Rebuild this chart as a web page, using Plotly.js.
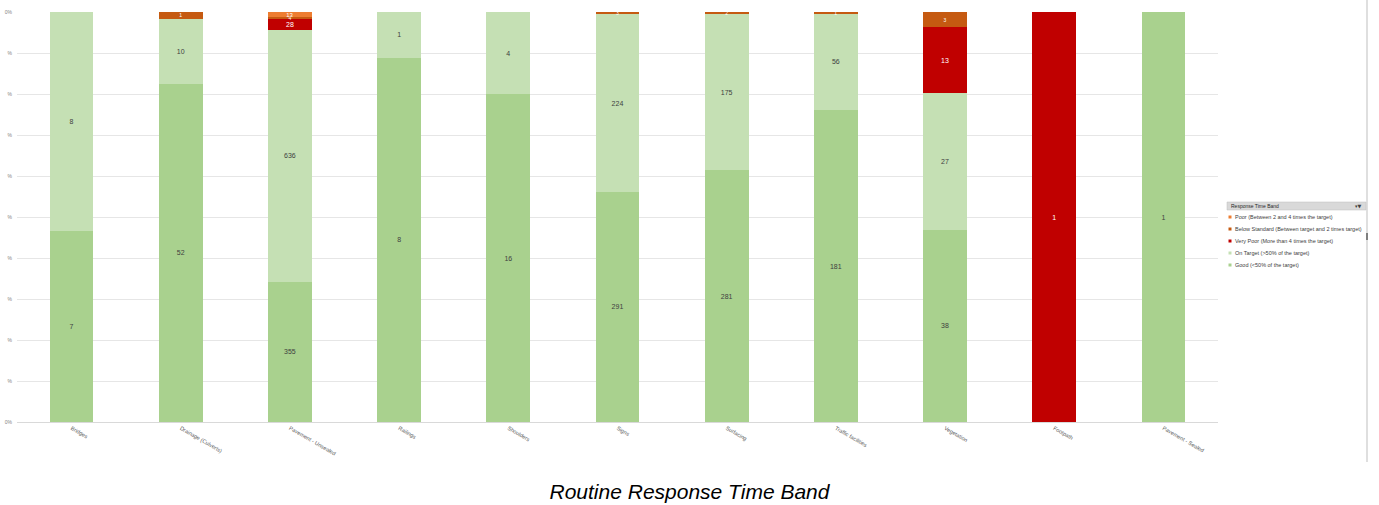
<!DOCTYPE html>
<html><head><meta charset="utf-8">
<script src="https://cdn.plot.ly/plotly-3.0.1.min.js"></script>
<style>body{margin:0;background:#fff}#c{width:1379px;height:505px}</style>
</head><body><div id="c"></div>
<script>
const categories = ["Bridges","Drainage (Culverts)","Pavement - Unsealed","Railings","Shoulders","Signs","Surfacing","Traffic facilities","Vegetation","Footpath","Pavement - Sealed"];
const good        = [7, 52, 355, 8, 16, 291, 281, 181, 38, null, 1];
const onTarget    = [8, 10, 636, 1, 4, 224, 175, 56, 27, null, null];
const veryPoor    = [null, null, 28, null, null, null, null, null, 13, 1, null];
const belowStd    = [null, 1, 4, null, null, 3, 2, 1, 3, null, null];
const poor        = [null, null, 13, null, null, null, null, null, null, null, null];
const yTickVals   = [0,0.1,0.2,0.3,0.4,0.5,0.6,0.7,0.8,0.9,1];
const yTickText   = ["0%","%","%","%","%","%","%","%","%","%","0%"];
const legendTitle = "Response Time Band";
const seriesNames = ["Good (<50% of the target)","On Target (>50% of the target)","Very Poor (More than 4 times the target)","Below Standard (Between target and 2 times target)","Poor (Between 2 and 4 times the target)"];
const seriesData  = [good, onTarget, veryPoor, belowStd, poor];
const seriesColors= ["#A9D18E","#C5E0B4","#C00000","#C55A11","#ED7D31"];
const textColors  = ["#404040","#404040","#ffffff","#ffffff","#ffffff"];
const textSizes   = [7, 7, 7, 5, 6];

const traces = seriesData.map((d,i)=>({
  type:'bar', x:categories, y:d, name:seriesNames[i],
  marker:{color:seriesColors[i], line:{width:0}},
  text:d.map(v=>v==null?'':String(v)), textposition:'inside', insidetextanchor:'middle',
  textangle:0, constraintext:'none',
  textfont:{family:'Liberation Sans, Arial', size:textSizes[i], color:textColors[i]},
  hoverinfo:'skip'
}));

// plot area in px: x 17..1218, y 12..422
const L=17,R=1218,T=12,B=422;
const px = x => (x-L)/(R-L);
const py = y => (B-y)/(B-T);

const shapes = [
  {type:'line', xref:'paper', yref:'paper', x0:px(1367), x1:px(1367), y0:py(0), y1:py(462), line:{color:'#bfbfbf', width:1}},
  {type:'rect', xref:'paper', yref:'paper', x0:px(1366), x1:px(1368), y0:py(233), y1:py(240), line:{width:0}, fillcolor:'#7f7f7f'},
  {type:'rect', xref:'paper', yref:'paper', x0:px(1227), x1:px(1366), y0:py(202), y1:py(210), line:{color:'#bfbfbf', width:0.5}, fillcolor:'#d9d9d9'}
];
const annotations = [
  {xref:'paper', yref:'paper', x:px(1229), y:py(206), xanchor:'left', yanchor:'middle', text:legendTitle, showarrow:false, font:{family:'Liberation Sans, Arial', size:5, color:'#262626'}},
  {xref:'paper', yref:'paper', x:px(1364), y:py(206), xanchor:'right', yanchor:'middle', text:'▾▼', showarrow:false, font:{family:'DejaVu Sans', size:5, color:'#404040'}}
];
// legend items, top to bottom: Poor, Below Standard, Very Poor, On Target, Good
for (let k=0;k<5;k++){
  const i = 4-k;
  const yc = 217 + 12*k;
  shapes.push({type:'rect', xref:'paper', yref:'paper', x0:px(1228.5), x1:px(1231.5), y0:py(yc+1.5), y1:py(yc-1.5), line:{width:0}, fillcolor:seriesColors[i]});
  annotations.push({xref:'paper', yref:'paper', x:px(1233), y:py(yc), xanchor:'left', yanchor:'middle', text:seriesNames[i], showarrow:false, font:{family:'Liberation Sans, Arial', size:5.5, color:'#404040'}});
}

const layout = {
  width:1379, height:505,
  margin:{l:L, r:1379-R, t:T, b:505-B, pad:0},
  barmode:'stack', barnorm:'fraction', bargap:0.6,
  showlegend:false,
  paper_bgcolor:'#ffffff', plot_bgcolor:'#ffffff',
  font:{family:'Liberation Sans, Arial', color:'#595959'},
  title:{text:'Routine Response Time Band', font:{family:'Liberation Sans, Arial', size:21, style:'italic', color:'#000000'}, x:0.5, xref:'container', y:(505-492)/505, yref:'container', yanchor:'middle', xanchor:'center'},
  xaxis:{type:'category', range:[-0.5,10.5], tickangle:30, tickfont:{size:5.5, color:'#595959'}, showline:true, linecolor:'#d9d9d9', linewidth:1, ticks:'', showgrid:false, zeroline:false, automargin:false},
  yaxis:{range:[0,1], tickvals:yTickVals, ticktext:yTickText, tickfont:{size:5, color:'#7f7f7f'}, showgrid:true, gridcolor:'#e6e6e6', gridwidth:1, zeroline:false, ticks:'', ticklabelstandoff:4, automargin:false, fixedrange:true},
  shapes:shapes, annotations:annotations
};
Plotly.newPlot('c', traces, layout, {staticPlot:true, displayModeBar:false});
</script></body></html>
